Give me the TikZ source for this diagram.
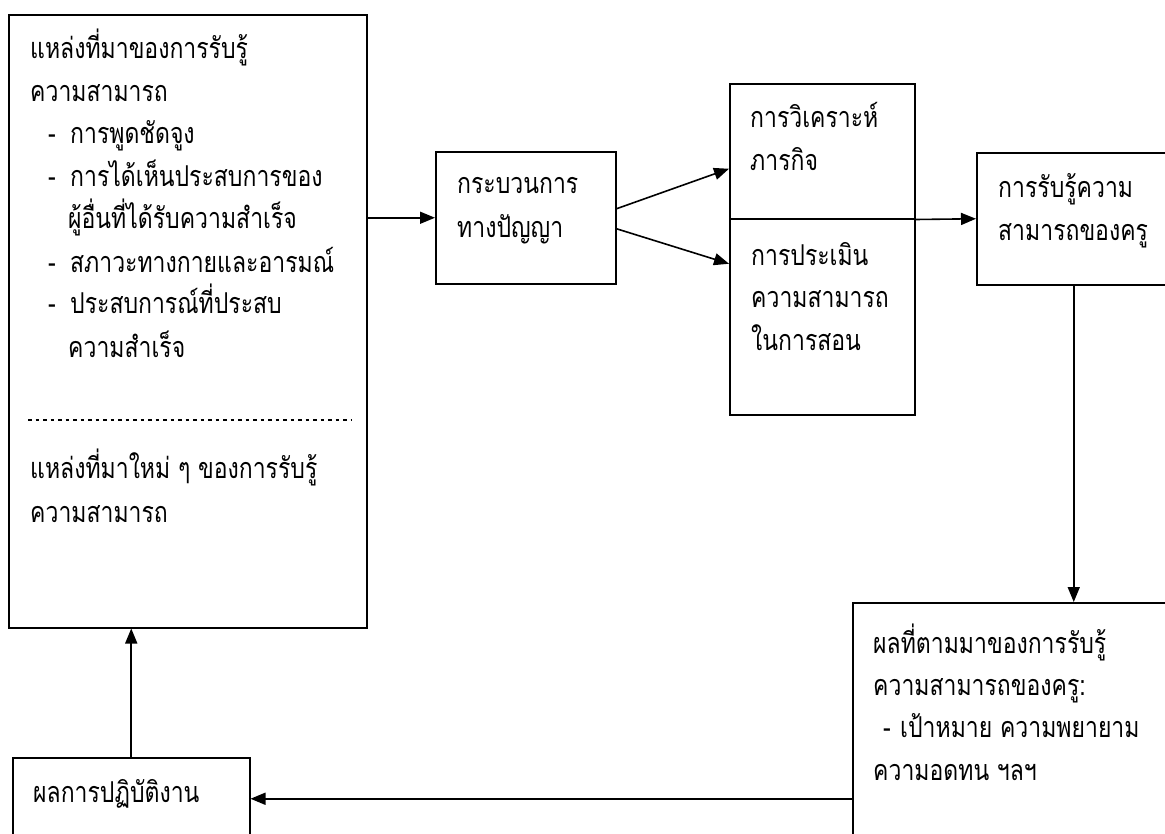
\documentclass[tikz,border=0pt]{standalone}
\usepackage{fontspec}
\newfontfamily\thai[Script=Thai]{Loma}
\usetikzlibrary{arrows.meta}
\newcommand{\tx}[1]{\scalebox{1}[1.25]{#1}}
\tikzset{
  box/.style={draw=black, line width=1.5pt, rectangle, inner sep=0pt, anchor=north west},
  arr/.style={draw=black, line width=1.6pt, -{Triangle[length=15pt,width=12pt]}},
  lbl/.style={anchor=base west, inner sep=0pt, font=\thai\fontsize{23}{26}\selectfont}
}
\begin{document}
\begin{tikzpicture}[x=1pt,y=-1pt]
\useasboundingbox (0,0) rectangle (1165,833);
% boxes
\node[box, minimum width=358pt, minimum height=613pt] (big) at (8,14) {};
\node[box, minimum width=180pt, minimum height=132pt] (proc) at (435,151) {};
\node[box, minimum width=185pt, minimum height=135pt] (anal) at (729,83) {};
\node[box, minimum width=185pt, minimum height=196pt] (eval) at (729,218) {};
\node[box, minimum width=194pt, minimum height=132pt] (perc) at (976,152) {};
\node[box, minimum width=330pt, minimum height=392pt] (cons) at (852,602) {};
\node[box, minimum width=237pt, minimum height=82pt] (perf) at (12,757) {};
% dashed divider
\coordinate (dA) at (28,420);
\coordinate (dB) at (352,420);
\draw[line width=1.1pt, dash pattern=on 3.5pt off 4pt] (dA) -- (dB);
% texts: big box
\node[lbl] (b1) at (30,58) {\tx{แหล่งที่มาของการรับรู้}};
\node[lbl] (b2) at (30,101) {\tx{ความสามารถ}};
\node[lbl] (b3d) at (48,143) {\tx{-}};
\node[lbl] (b3) at (70,143) {\tx{การพูดชัดจูง}};
\node[lbl] (b4d) at (48,186) {\tx{-}};
\node[lbl] (b4) at (70,186) {\tx{การได้เห็นประสบการของ}};
\node[lbl] (b5) at (68,228) {\tx{ผู้อื่นที่ได้รับความสำเร็จ}};
\node[lbl] (b6d) at (48,272) {\tx{-}};
\node[lbl] (b6) at (70,272) {\tx{สภาวะทางกายและอารมณ์}};
\node[lbl] (b7d) at (48,313) {\tx{-}};
\node[lbl] (b7) at (70,313) {\tx{ประสบการณ์ที่ประสบ}};
\node[lbl] (b8) at (68,357) {\tx{ความสำเร็จ}};
\node[lbl] (b9) at (30,478) {\tx{แหล่งที่มาใหม่ ๆ ของการรับรู้}};
\node[lbl] (b10) at (30,522) {\tx{ความสามารถ}};
% process
\node[lbl] (p1) at (457,193) {\tx{กระบวนการ}};
\node[lbl] (p2) at (457,237) {\tx{ทางปัญญา}};
% analysis
\node[lbl] (a1) at (750,127) {\tx{การวิเคราะห์}};
\node[lbl] (a2) at (750,170) {\tx{ภารกิจ}};
% evaluation
\node[lbl] (e1) at (751,265) {\tx{การประเมิน}};
\node[lbl] (e2) at (751,307) {\tx{ความสามารถ}};
\node[lbl] (e3) at (751,350) {\tx{ในการสอน}};
% perception
\node[lbl] (r1) at (998,197) {\tx{การรับรู้ความ}};
\node[lbl] (r2) at (998,240) {\tx{สามารถของครู}};
% consequences
\node[lbl] (c1) at (873,653) {\tx{ผลที่ตามมาของการรับรู้}};
\node[lbl] (c2) at (873,695) {\tx{ความสามารถของครู:}};
\node[lbl] (c3d) at (883,737) {\tx{-}};
\node[lbl] (c3) at (900,737) {\tx{เป้าหมาย ความพยายาม}};
\node[lbl] (c4) at (873,780) {\tx{ความอดทน ฯลฯ}};
% performance
\node[lbl] (f1) at (33,802) {\tx{ผลการปฏิบัติงาน}};
% connectors
\draw[arr] (proc.west -| big.east) -- (proc.west);
\draw[arr] ([yshift=9pt]proc.east) -- ([yshift=-17.5pt]anal.west);
\draw[arr] ([yshift=-11pt]proc.east) -- ([yshift=53pt]eval.west);
\draw[arr] (anal.south east) -- (perc.west);
\draw[arr] (perc.south) -- (perc.south |- cons.north);
\draw[arr] (cons.west) -- (perf.east);
\draw[arr] (perf.north) -- (perf.north |- big.south);
\end{tikzpicture}
\end{document}
